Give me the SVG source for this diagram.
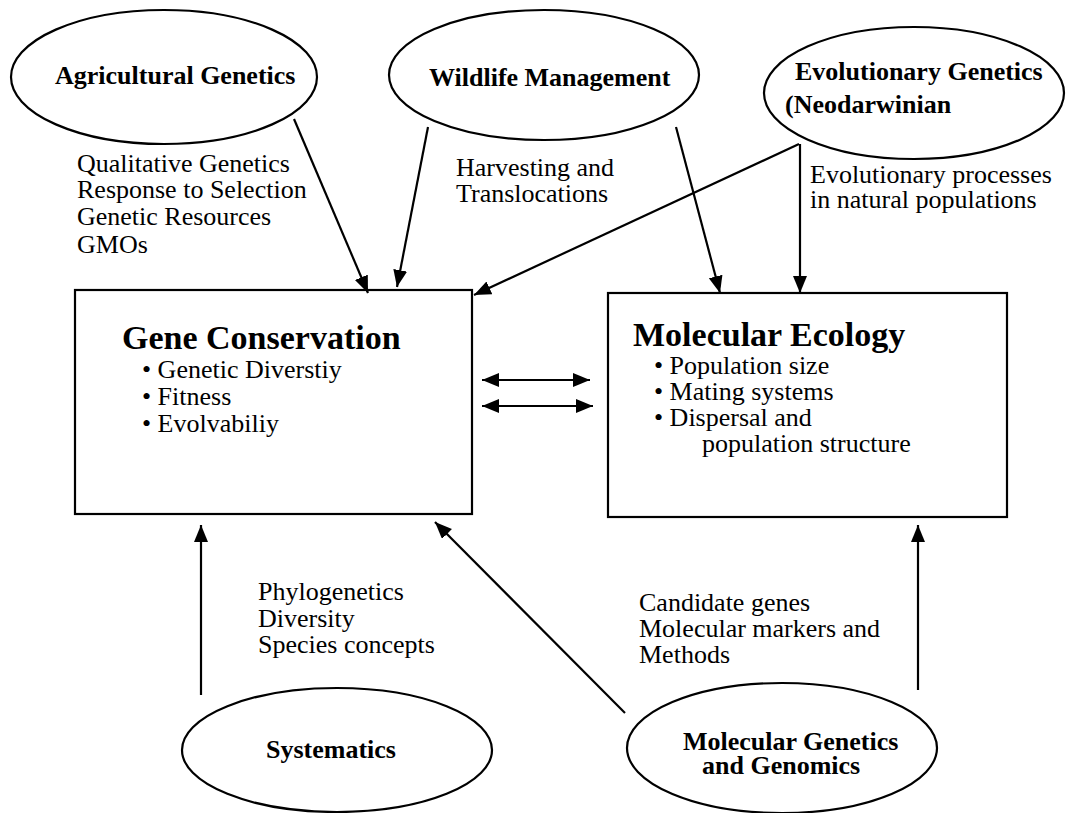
<svg xmlns="http://www.w3.org/2000/svg" width="1067" height="813" viewBox="0 0 1067 813">
<style>
.node{fill:#fff;stroke:#000;stroke-width:2.2}
.lbl{font-family:"Liberation Serif","Times New Roman",serif;font-size:26px;font-weight:bold;fill:#000}
.title{font-family:"Liberation Serif","Times New Roman",serif;font-size:34px;font-weight:bold;fill:#000}
.txt{font-family:"Liberation Serif","Times New Roman",serif;font-size:26px;fill:#000}
.conn{stroke:#000;stroke-width:2.2;fill:none;marker-end:url(#ah)}
.dbl{stroke:#000;stroke-width:2.2;fill:none;marker-end:url(#ah);marker-start:url(#ah)}
</style>
<defs>
<marker id="ah" markerUnits="userSpaceOnUse" markerWidth="18" markerHeight="15" refX="17" refY="7" orient="auto-start-reverse">
<path d="M0,0 L17,7 L0,14 z" fill="#000"/>
</marker>
</defs>
<rect width="1067" height="813" fill="#fff"/>
<g id="agricultural-genetics">
<ellipse class="node" cx="164" cy="77" rx="153" ry="67"/>
<text class="lbl" x="55" y="84">Agricultural Genetics</text>
</g>
<g id="wildlife-management">
<ellipse class="node" cx="544" cy="75" rx="155" ry="65"/>
<text class="lbl" x="429" y="86">Wildlife Management</text>
</g>
<g id="evolutionary-genetics">
<ellipse class="node" cx="914" cy="93" rx="150" ry="66"/>
<text class="lbl" x="795" y="80">Evolutionary Genetics</text>
<text class="lbl" x="785" y="113">(Neodarwinian</text>
</g>
<g id="gene-conservation">
<rect class="node" x="75" y="290" width="397" height="224"/>
<text class="title" x="122" y="349">Gene Conservation</text>
<text class="txt" x="142" y="378">• Genetic Diverstiy</text>
<text class="txt" x="142" y="405">• Fitness</text>
<text class="txt" x="142" y="432">• Evolvabiliy</text>
</g>
<g id="molecular-ecology">
<rect class="node" x="608" y="293" width="399" height="224"/>
<text class="title" x="633" y="346">Molecular Ecology</text>
<text class="txt" x="654" y="374">• Population size</text>
<text class="txt" x="654" y="400">• Mating systems</text>
<text class="txt" x="654" y="426">• Dispersal and</text>
<text class="txt" x="702" y="452">population structure</text>
</g>
<g id="systematics">
<ellipse class="node" cx="337" cy="750" rx="155" ry="62"/>
<text class="lbl" x="266" y="758">Systematics</text>
</g>
<g id="molecular-genetics">
<ellipse class="node" cx="782" cy="748" rx="155" ry="65"/>
<text class="lbl" x="683" y="750">Molecular Genetics</text>
<text class="lbl" x="702" y="774">and Genomics</text>
</g>
<g id="labels">
<text class="txt" x="77" y="172">Qualitative Genetics</text>
<text class="txt" x="77" y="198">Response to Selection</text>
<text class="txt" x="77" y="225">Genetic Resources</text>
<text class="txt" x="77" y="253">GMOs</text>
<text class="txt" x="456" y="176">Harvesting and</text>
<text class="txt" x="456" y="202">Translocations</text>
<text class="txt" x="810" y="183">Evolutionary processes</text>
<text class="txt" x="810" y="208">in natural populations</text>
<text class="txt" x="258" y="600">Phylogenetics</text>
<text class="txt" x="258" y="627">Diversity</text>
<text class="txt" x="258" y="653">Species concepts</text>
<text class="txt" x="639" y="611">Candidate genes</text>
<text class="txt" x="639" y="637">Molecular markers and</text>
<text class="txt" x="639" y="663">Methods</text>
</g>
<g id="connectors">
<line class="conn" x1="294" y1="119" x2="368" y2="293"/>
<line class="conn" x1="428" y1="127" x2="397" y2="287"/>
<line class="conn" x1="799" y1="144" x2="474" y2="295"/>
<line class="conn" x1="676" y1="127" x2="720" y2="293"/>
<line class="conn" x1="800" y1="144" x2="800" y2="293"/>
<line class="dbl" x1="482" y1="380" x2="590" y2="380"/>
<line class="dbl" x1="482" y1="406" x2="593" y2="406"/>
<line class="conn" x1="201" y1="695" x2="201" y2="525"/>
<line class="conn" x1="625" y1="713" x2="435" y2="522"/>
<line class="conn" x1="918" y1="690" x2="918" y2="525"/>
</g>
</svg>
